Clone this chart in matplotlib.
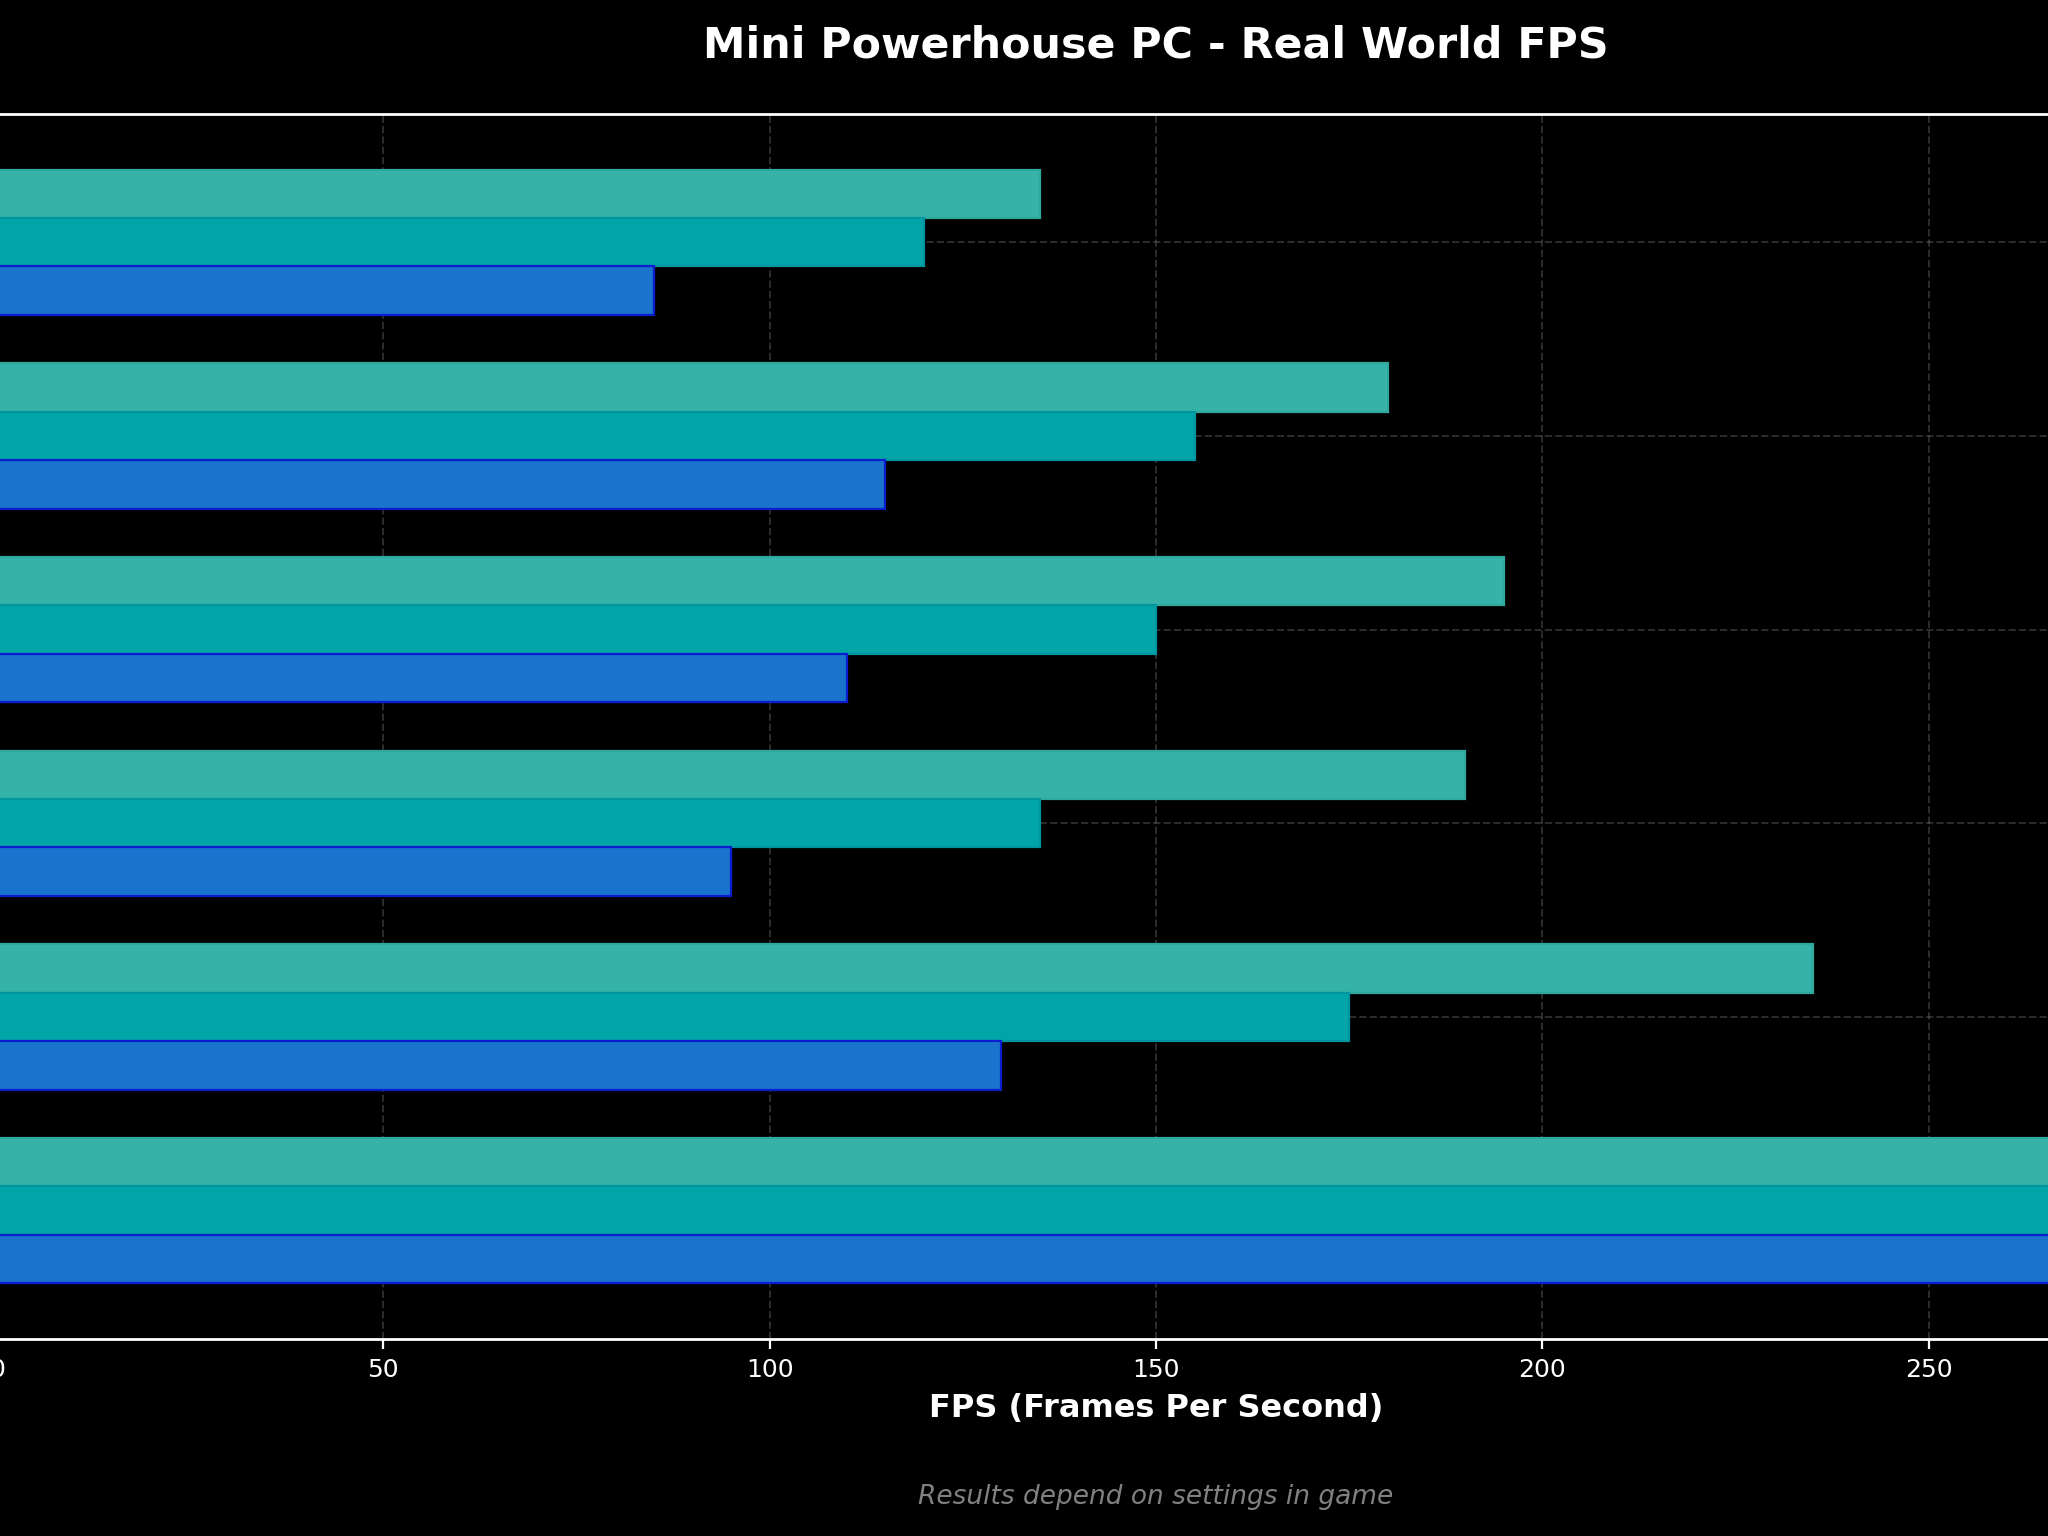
import numpy as np
import matplotlib
matplotlib.use("Agg")
import matplotlib.pyplot as plt

# -----------------------------------------------------
# DATA (group 6 runs past the frame)
# -----------------------------------------------------
games = ["Game 1", "Game 2", "Game 3", "Game 4", "Game 5", "Game 6"]
series = ["1080p", "1440p", "4K"]
fps_1080p = [135, 180, 195, 190, 235, 290]
fps_1440p = [120, 155, 150, 135, 175, 280]
fps_4k = [85, 115, 110, 95, 130, 270]

colors = ["#36B3A8", "#00A5A8", "#1A73CC"]
edges = ["#2FA89D", "#0096A0", "#0A1ED0"]

# -----------------------------------------------------
# PLOT
# -----------------------------------------------------
fig = plt.figure(figsize=(10.24, 7.68), dpi=200, facecolor="black")
ax = fig.add_axes([-0.0015, 0.1283, 1.1318, 0.7975])
ax.set_facecolor("black")

y = np.arange(len(games))
bar_h = 0.25
for i, vals in enumerate([fps_1080p, fps_1440p, fps_4k]):
    ax.barh(y + (i - 1) * bar_h, vals, height=bar_h, color=colors[i],
            edgecolor=edges[i], linewidth=0.8, label=series[i], zorder=3)

ax.set_xlim(0, 300)
ax.invert_yaxis()
ax.set_yticks(y)
ax.tick_params(axis="y", left=False, labelleft=False)
ax.tick_params(axis="x", colors="white", labelsize=9)

ax.grid(True, linestyle="--", color="gray", alpha=0.35, linewidth=0.7, zorder=0)
ax.set_axisbelow(True)

for s in ax.spines.values():
    s.set_color("white")
    s.set_linewidth(1.0)

ax.set_title("Mini Powerhouse PC - Real World FPS", color="white",
             fontsize=15.4, fontweight="bold", pad=20.5)
ax.set_xlabel("FPS (Frames Per Second)", color="white", fontsize=11.5,
              fontweight="bold", labelpad=4)
ax.text(0.5, -0.129, "Results depend on settings in game", transform=ax.transAxes,
        ha="center", va="center", color="gray", fontsize=9.5, style="italic")

fig.savefig("out.png", dpi=200, facecolor="black")
print("saved out.png")
